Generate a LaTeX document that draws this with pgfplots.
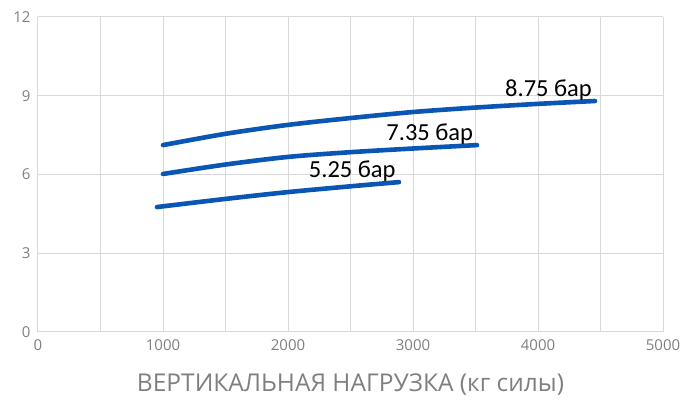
\documentclass[border=0pt]{standalone}
\usepackage{pgfplots}
\pgfplotsset{compat=1.18}
\usepackage{fontspec}
\setmainfont{Open Sans}
\newfontfamily\labfont{Carlito}
\definecolor{curve}{HTML}{0A56B4}
\definecolor{gridc}{HTML}{D9D9D9}
\definecolor{axc}{HTML}{BFBFBF}
\definecolor{tickc}{HTML}{7F7F7F}
\begin{document}
\begin{tikzpicture}
\useasboundingbox (-38pt,-69pt) rectangle (645pt,332pt);
\begin{axis}[
  at={(0pt,0pt)}, anchor=origin,
  scale only axis, width=625pt, height=315pt,
  xmin=0, xmax=5000, ymin=0, ymax=12,
  xtick={0,1000,...,5000}, ytick={0,3,...,12},
  minor xtick={500,1500,...,4500},
  grid=both, major grid style={gridc, line width=1pt}, minor grid style={gridc, line width=1pt},
  axis line style={draw=none},
  tick style={draw=none},
  axis x line*=bottom, axis y line*=left,
  x axis line style={axc, line width=1pt},
  y axis line style={axc, line width=1pt},
  /pgf/number format/assume math mode=true,
  /pgf/number format/1000 sep={},
  ticklabel style={font=\fontsize{15}{15}\selectfont, text=tickc},
  xticklabel style={yshift=-4pt},
  yticklabel style={xshift=-4pt},
  xlabel={ВЕРТИКАЛЬНАЯ НАГРУЗКА (кг силы)},
  xlabel style={font=\fontsize{24.5}{24.5}\selectfont, text=tickc, yshift=-16pt},
  clip=false,
]
\addplot[curve, line width=4.6pt, line cap=round, smooth] coordinates {
 (1000,7.12) (1500,7.55) (2000,7.89) (2500,8.15) (3000,8.38) (3500,8.55) (4000,8.69) (4456,8.80)};
\addplot[curve, line width=4.6pt, line cap=round, smooth] coordinates {
 (1000,6.02) (1500,6.38) (2000,6.67) (2500,6.85) (3000,6.99) (3512,7.12)};
\addplot[curve, line width=4.6pt, line cap=round, smooth] coordinates {
 (952,4.76) (1500,5.07) (2000,5.33) (2500,5.55) (2888,5.71)};
\node[font=\labfont\fontsize{24.5}{24.5}\selectfont, anchor=south east, inner sep=1pt] at (axis cs:4440,8.78) {8.75 бар};
\node[font=\labfont\fontsize{24.5}{24.5}\selectfont, anchor=south east, inner sep=1pt] at (axis cs:3490,7.10) {7.35 бар};
\node[font=\labfont\fontsize{24.5}{24.5}\selectfont, anchor=south east, inner sep=1pt] at (axis cs:2870,5.70) {5.25 бар};
\end{axis}
\end{tikzpicture}
\end{document}
